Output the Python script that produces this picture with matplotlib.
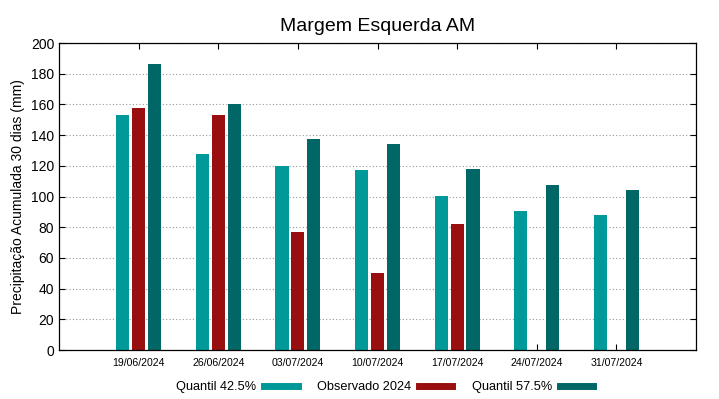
import matplotlib.pyplot as plt
import matplotlib.transforms as mtransforms
from matplotlib.lines import Line2D
import numpy as np

plt.rcParams['font.family'] = ['Liberation Sans', 'DejaVu Sans']

datas = ["19/06/2024", "26/06/2024", "03/07/2024", "10/07/2024",
         "17/07/2024", "24/07/2024", "31/07/2024"]
q425 = [153, 127.5, 120, 117.5, 100.3, 90.5, 88]
observado = [157.5, 153, 77, 50, 82, np.nan, np.nan]
q575 = [186.5, 160, 137.5, 134.5, 118, 107.5, 104]

cores = {"q425": "#009999", "obs": "#990f0f", "q575": "#006666"}

fig = plt.figure(figsize=(7.19, 3.99), dpi=100)
ax = fig.add_axes([0.0821, 0.1228, 0.968 - 0.0821, 0.892 - 0.1228])

x = np.arange(len(datas))
w = 0.165
ax.bar(x - 0.2, q425, w, color=cores["q425"])
ax.bar(x, observado, w, color=cores["obs"])
ax.bar(x + 0.2, q575, w, color=cores["q575"])

ax.set_xlim(-1, 7)
ax.set_ylim(0, 200)
ax.set_yticks(range(0, 201, 20))
ax.set_xticks(x)
ax.set_xticklabels(datas, fontsize=7.6)
offset = mtransforms.ScaledTranslation(7.5 / 100, 0, fig.dpi_scale_trans)
for lab in ax.get_xticklabels():
    lab.set_transform(lab.get_transform() + offset)
ax.tick_params(axis='y', labelsize=10, direction='in', right=True, length=4)
ax.tick_params(axis='x', direction='in', top=True, length=4, pad=6)
ax.yaxis.grid(True, linestyle=(0, (1, 2)), color='#999999', linewidth=0.8)
ax.set_axisbelow(True)
for s in ax.spines.values():
    s.set_linewidth(0.9)

ax.set_ylabel("Precipitação Acumulada 30 dias (mm)", fontsize=10)
ax.set_title("Margem Esquerda AM", fontsize=14, pad=9)

handles = [Line2D([], [], color=cores["q425"], linewidth=5),
           Line2D([], [], color=cores["obs"], linewidth=5),
           Line2D([], [], color=cores["q575"], linewidth=5)]
fig.legend(handles, ["Quantil 42.5%", "Observado 2024", "Quantil 57.5%"],
           loc='center', bbox_to_anchor=(0.535, 0.03), ncol=3, frameon=False,
           markerfirst=False, fontsize=9.2, handlelength=2.6,
           columnspacing=1.5, handletextpad=0.65)

fig.savefig("out.png", dpi=100)
